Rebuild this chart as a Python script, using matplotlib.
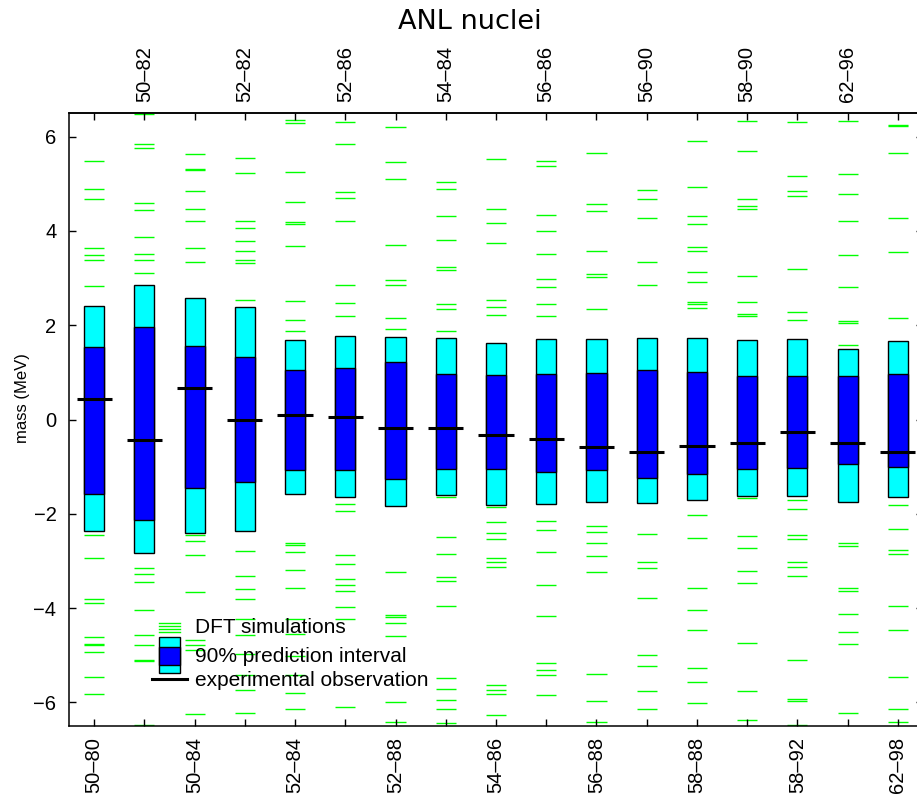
import numpy as np
import matplotlib.pyplot as plt
from matplotlib.patches import Rectangle

plt.rcParams['font.family'] = ['Liberation Sans', 'DejaVu Sans']

# nuclei (Z-N)
labels = ['50–80', '50–82', '50–84', '52–82', '52–84', '52–86', '52–88', '54–84', '54–86',
          '56–86', '56–88', '56–90', '58–88', '58–90', '58–92', '62–96', '62–98']

# outer (cyan) and inner (blue) interval limits, experimental value (MeV)
hi_out = [2.41, 2.86, 2.58, 2.38, 1.68, 1.77, 1.74, 1.73, 1.63, 1.71, 1.70, 1.72, 1.73, 1.69, 1.70, 1.49, 1.67]
hi_in = [1.53, 1.97, 1.56, 1.32, 1.05, 1.10, 1.23, 0.96, 0.94, 0.96, 0.98, 1.06, 1.00, 0.92, 0.92, 0.92, 0.96]
lo_in = [-1.58, -2.13, -1.46, -1.32, -1.07, -1.08, -1.27, -1.06, -1.04, -1.12, -1.08, -1.25, -1.15, -1.04, -1.02, -0.95, -1.01]
lo_out = [-2.37, -2.83, -2.41, -2.37, -1.58, -1.65, -1.83, -1.61, -1.82, -1.80, -1.76, -1.77, -1.70, -1.63, -1.63, -1.76, -1.65]
obs = [0.43, -0.44, 0.66, -0.02, 0.10, 0.05, -0.19, -0.18, -0.32, -0.41, -0.59, -0.68, -0.56, -0.50, -0.27, -0.50, -0.68]

# DFT model results, one list per nucleus
dft = [
    [5.49, 4.89, 4.67, 3.64, 3.48, 3.38, 2.83, -2.44, -2.93, -3.80, -3.89, -4.62, -4.77, -4.79, -4.93, -5.46, -5.83],
    [6.47, 5.85, 5.76, 4.60, 4.45, 3.87, 3.50, 3.39, 3.10, -3.14, -3.28, -3.45, -4.04, -4.56, -4.79, -5.09, -5.13, -6.47],
    [5.62, 5.32, 5.30, 4.84, 4.47, 4.22, 3.64, 3.34, -2.46, -2.57, -2.87, -3.65, -4.67, -4.79, -4.88, -6.25],
    [5.54, 5.22, 4.22, 4.06, 3.79, 3.58, 3.38, 3.31, 2.54, -2.78, -3.32, -3.59, -3.81, -4.24, -4.56, -4.97, -5.41, -5.73, -6.23],
    [6.35, 6.29, 5.24, 4.62, 4.18, 4.14, 3.68, 2.52, 2.12, 1.87, -2.62, -2.67, -2.80, -3.19, -3.57, -4.23, -4.54, -5.01, -5.41, -5.80, -6.15],
    [6.31, 5.84, 4.83, 4.70, 4.21, 2.86, 2.47, 2.19, -1.80, -1.94, -2.88, -3.07, -3.38, -3.50, -3.64, -3.98, -4.24, -6.10],
    [6.21, 5.46, 5.10, 3.71, 2.96, 2.85, 2.15, 1.91, -3.24, -4.15, -4.19, -4.31, -4.60, -5.99, -6.41],
    [5.03, 4.89, 4.32, 3.81, 3.24, 3.16, 2.44, 2.35, 1.87, -1.65, -2.50, -2.85, -3.34, -3.42, -3.96, -5.48, -5.72, -5.95, -6.13, -6.44],
    [5.53, 4.46, 4.16, 3.75, 2.54, 2.39, 2.21, -1.86, -2.18, -2.40, -2.54, -2.94, -3.02, -3.13, -5.62, -5.73, -5.83, -6.27],
    [5.49, 5.37, 4.34, 4.00, 3.51, 2.99, 2.80, 2.44, 2.20, -2.16, -2.35, -2.80, -3.52, -4.17, -5.17, -5.32, -5.41, -5.85],
    [5.65, 4.56, 4.43, 3.57, 3.09, 3.02, 2.34, -2.25, -2.39, -2.61, -2.89, -3.23, -5.39, -5.98, -6.41],
    [4.87, 4.68, 4.27, 3.33, 2.85, -2.43, -3.02, -3.15, -3.78, -4.99, -5.23, -5.76, -6.15],
    [5.91, 4.93, 4.31, 4.15, 3.66, 3.57, 3.13, 2.91, 2.49, 2.44, 2.37, -2.02, -2.52, -3.58, -4.03, -4.46, -5.26, -5.56, -6.01],
    [6.32, 5.69, 4.67, 4.52, 4.47, 3.05, 2.49, 2.24, 2.19, -1.67, -2.47, -2.72, -3.21, -3.47, -4.74, -5.76, -6.38],
    [6.30, 5.16, 4.85, 4.73, 3.20, 2.27, 2.10, -1.70, -1.89, -2.44, -2.54, -3.03, -3.13, -3.31, -5.10, -5.92, -5.98, -6.47],
    [6.33, 5.20, 4.79, 4.20, 3.48, 2.81, 2.08, 2.05, 1.59, -2.61, -2.68, -3.57, -3.64, -4.13, -4.50, -4.76, -6.22],
    [6.25, 6.22, 5.65, 4.28, 3.55, 2.16, -1.82, -2.32, -2.76, -2.86, -3.95, -4.46, -5.46, -6.15, -6.42],
]

green = '#00ff00'
x = np.arange(1, len(labels) + 1)

fig = plt.figure(figsize=(9.17, 7.96), dpi=100)
ax = fig.add_axes([69 / 917, 70 / 796, 854 / 917, 613 / 796])

# DFT simulations
for xi, vals in zip(x, dft):
    ax.hlines(vals, xi - 0.2, xi + 0.2, colors=green, lw=1, zorder=1)

# intervals
hi_out, lo_out = np.array(hi_out), np.array(lo_out)
hi_in, lo_in = np.array(hi_in), np.array(lo_in)
ax.bar(x, hi_out - lo_out, bottom=lo_out, width=0.4, color='cyan', edgecolor='black', lw=1, zorder=2)
ax.bar(x, hi_in - lo_in, bottom=lo_in, width=0.4, color='blue', edgecolor='black', lw=1, zorder=3)

# experiment
ax.hlines(obs, x - 0.35, x + 0.35, colors='black', lw=2.2, zorder=4)

ax.set_xlim(0.5, 17.5)
ax.set_ylim(-6.5, 6.5)
ax.set_yticks([-6, -4, -2, 0, 2, 4, 6])
ax.set_xticks(x)
ax.set_xticklabels([l if i % 2 == 0 else '' for i, l in enumerate(labels)], rotation=90)
ax.tick_params(direction='in', length=5, width=1, top=True, right=True, labelsize=14.5)
ax.tick_params(axis='x', pad=8)
ax.tick_params(axis='y', pad=9)
for s in ax.spines.values():
    s.set_linewidth(1.1)

sec = ax.secondary_xaxis('top')
sec.set_xticks(x[1::2])
sec.set_xticklabels(labels[1::2], rotation=90)
sec.tick_params(length=0, labelsize=14.5, pad=8)
sec.spines['top'].set_linewidth(1.1)

ax.set_ylabel('mass (MeV)', fontsize=12)
ax.yaxis.set_label_coords(-0.046, 0.535)

fig.text(0.5125, 1 - 29 / 796, 'ANL nuclei', fontsize=19.5, family='DejaVu Sans',
         ha='center', va='baseline')

# legend
tr = ax.transAxes
for yy in [0.1675, 0.1631, 0.1587, 0.1538]:
    ax.plot([0.1054, 0.1300], [yy, yy], color=green, lw=1, transform=tr)
ax.add_patch(Rectangle((0.1054, 0.0865), 0.0246, 0.0587, transform=tr, facecolor='cyan', edgecolor='black', lw=1))
ax.add_patch(Rectangle((0.1054, 0.0995), 0.0246, 0.0299, transform=tr, facecolor='blue', edgecolor='black', lw=1))
ax.plot([0.0972, 0.1382], [0.0767, 0.0767], color='black', lw=2.2, transform=tr)
leg_text = ['DFT simulations', '90% prediction interval', 'experimental observation']
for t, yy in zip(leg_text, [0.1599, 0.1126, 0.0750]):
    ax.text(0.1475, yy, t, fontsize=15, transform=tr, va='center', ha='left')

fig.savefig('out.png', dpi=100)
